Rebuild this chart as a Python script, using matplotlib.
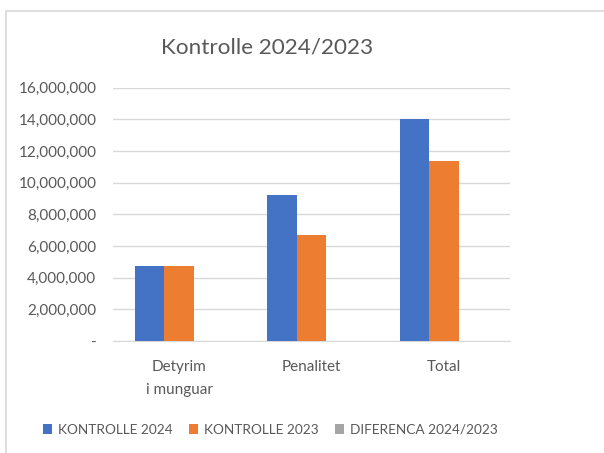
import matplotlib
matplotlib.use("Agg")
import matplotlib.pyplot as plt
import numpy as np
from matplotlib.patches import Rectangle
from matplotlib.ticker import FuncFormatter

categories = ["Detyrim\ni munguar", "Penalitet", "Total"]
kontrolle_2024 = [4760000, 9240000, 14020000]
kontrolle_2023 = [4760000, 6680000, 11390000]
diferenca = [0, 0, 0]  # not visible in the chart
series_names = ["KONTROLLE 2024", "KONTROLLE 2023", "DIFERENCA 2024/2023"]
colors = ["#4472C4", "#ED7D31", "#A5A5A5"]

plt.rcParams['font.family'] = ['Lato', 'DejaVu Sans']
text_col = "#595959"

fig = plt.figure(figsize=(6.04, 4.53), dpi=100)
ax = fig.add_axes([113/604, 1-341/453, (510-113)/604, (341-87.7)/453])

# chart border (only left and top are in view)
fig.patches.append(Rectangle((6/604, -0.1), 1.2, 1-11/453+0.1, transform=fig.transFigure,
                             fill=False, edgecolor="#d9d9d9", linewidth=1.2))

ind = np.arange(len(categories))
width = 0.222
bars = []
for i, (vals, col) in enumerate(zip([kontrolle_2024, kontrolle_2023, diferenca], colors)):
    b = ax.bar(ind + (i - 1) * width, vals, width, color=col, zorder=3)
    bars.append(b)

ax.set_xlim(-0.5, 2.5)
ax.set_ylim(0, 16000000)
ax.set_yticks(np.arange(0, 16000001, 2000000))
ax.yaxis.set_major_formatter(FuncFormatter(lambda v, p: "-" if v == 0 else "{:,.0f}".format(v)))
ax.grid(axis='y', color="#d9d9d9", linewidth=1, zorder=0)
for s in ["top", "right", "left"]:
    ax.spines[s].set_visible(False)
ax.spines["bottom"].set_color("#d9d9d9")
ax.tick_params(axis='both', length=0, colors=text_col, labelsize=11)
ax.tick_params(axis='y', pad=12)
ax.tick_params(axis='x', pad=14)
ax.set_xticks(ind)
ax.set_xticklabels(categories, color=text_col, linespacing=1.75)

fig.text(267/604, 1-47/453, "Kontrolle 2024/2023", ha='center', va='center',
         fontsize=16.2, color=text_col)

fig.legend([b[0] for b in bars], series_names, loc='center', bbox_to_anchor=(270/604, 1-430/453),
           ncol=3, frameon=False, fontsize=9.8, labelcolor=text_col,
           handlelength=0.7, handleheight=0.7, handletextpad=0.4, columnspacing=1.2)

plt.savefig("out.png", dpi=100)
